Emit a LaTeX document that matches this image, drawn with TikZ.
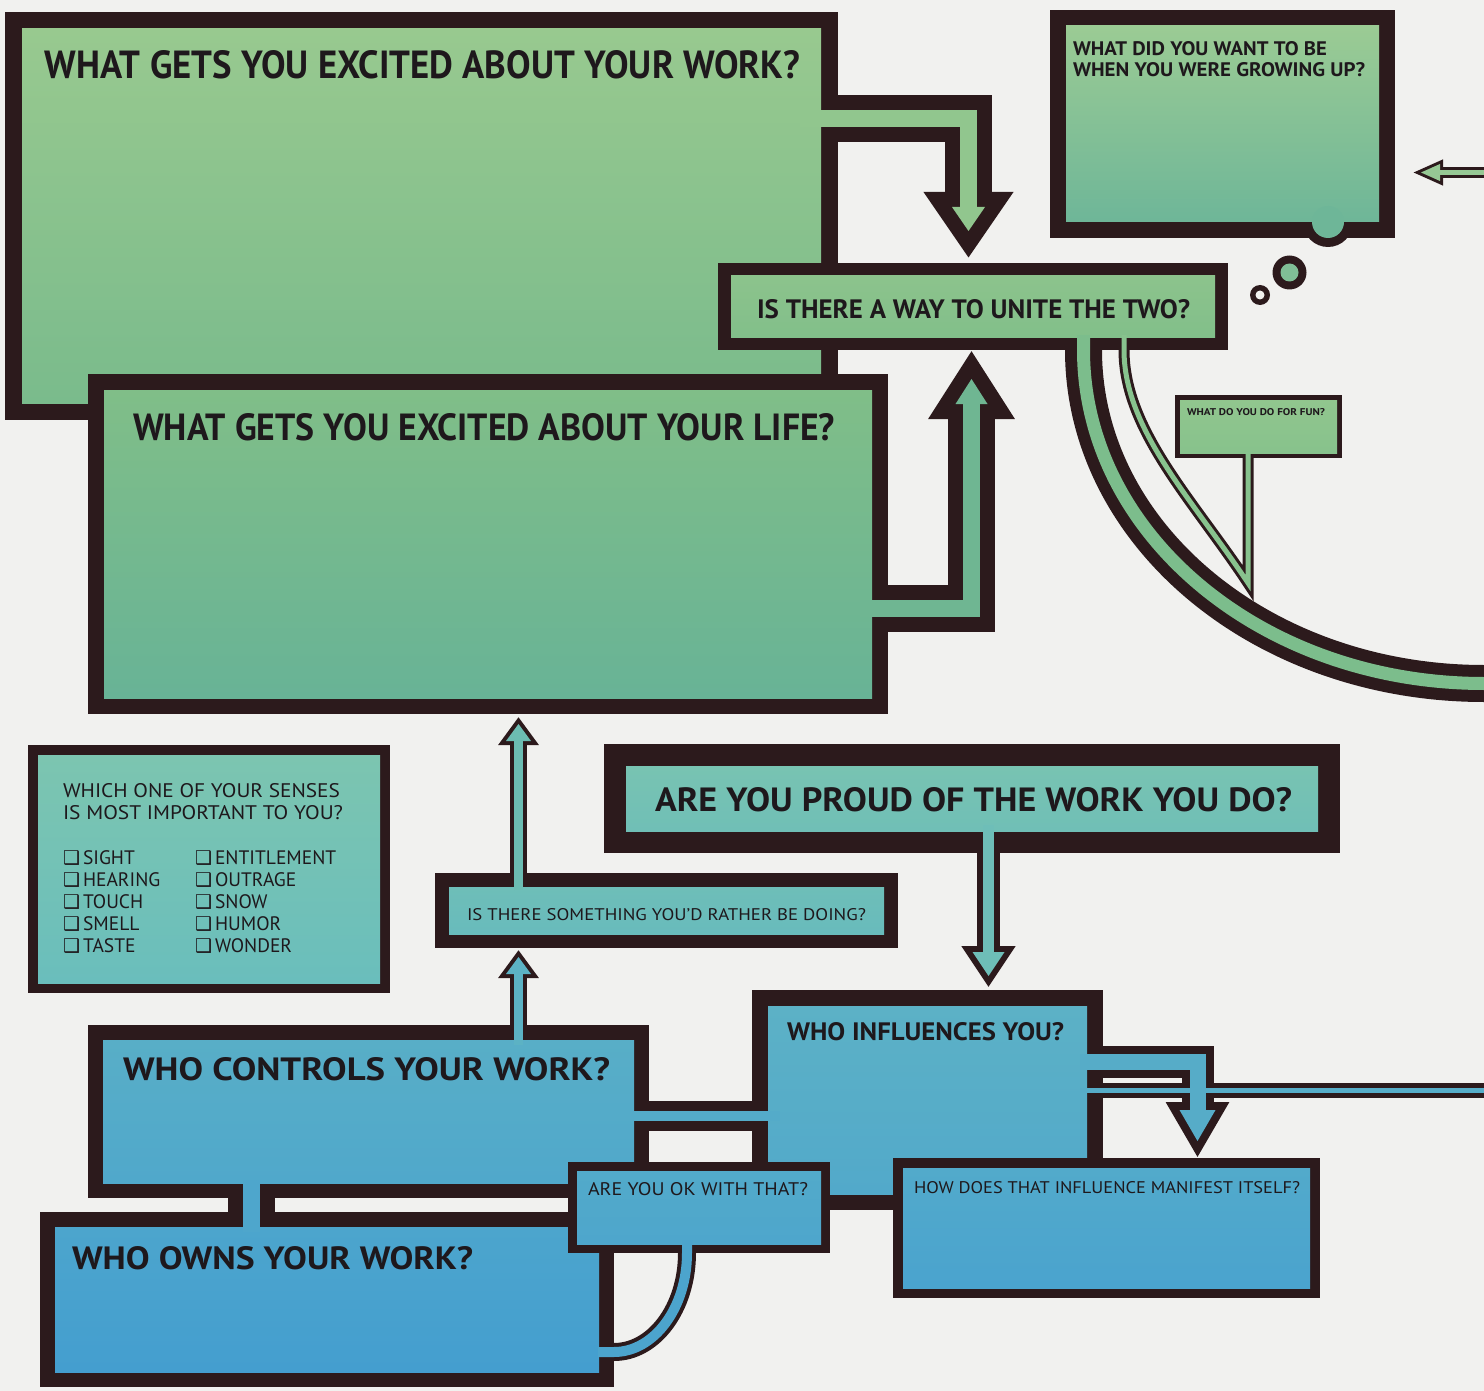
\documentclass[tikz,border=0pt]{standalone}
\usepackage{fontspec}
\setmainfont{PT Sans}
\newfontfamily\dejavu{DejaVu Sans}
\usepackage{graphicx}

\definecolor{dk}{RGB}{44,26,28}
\definecolor{bg}{RGB}{241,241,239}
\definecolor{tx}{RGB}{30,24,28}
\definecolor{cA1}{RGB}{152,201,143}\definecolor{cA2}{RGB}{122,187,140}
\definecolor{cD1}{RGB}{155,203,148}\definecolor{cD2}{RGB}{110,182,152}
\definecolor{cC1}{RGB}{140,195,140}\definecolor{cC2}{RGB}{130,191,138}
\definecolor{cB1}{RGB}{128,190,136}\definecolor{cB2}{RGB}{104,179,150}
\definecolor{cM1}{RGB}{145,198,142}\definecolor{cM2}{RGB}{135,194,140}
\definecolor{cE1}{RGB}{124,197,176}\definecolor{cE2}{RGB}{106,190,188}
\definecolor{cF1}{RGB}{120,195,178}\definecolor{cF2}{RGB}{112,191,182}
\definecolor{cH1}{RGB}{110,190,184}\definecolor{cH2}{RGB}{104,187,188}
\definecolor{cG1}{RGB}{92,177,198}\definecolor{cG2}{RGB}{82,169,202}
\definecolor{cI1}{RGB}{88,174,199}\definecolor{cI2}{RGB}{80,168,203}
\definecolor{cJ1}{RGB}{76,165,205}\definecolor{cJ2}{RGB}{68,158,207}
\definecolor{cK1}{RGB}{82,170,202}\definecolor{cK2}{RGB}{78,166,204}
\definecolor{cL1}{RGB}{82,170,203}\definecolor{cL2}{RGB}{74,163,206}
\colorlet{pAC}{cA1!75!cA2}
\colorlet{pBC}{cB1!30!cB2}
\definecolor{pST}{RGB}{124,189,140}
\definecolor{pSN}{RGB}{136,195,142}
\definecolor{pRA}{RGB}{150,200,148}
\definecolor{pHB}{RGB}{108,188,178}
\definecolor{pIH}{RGB}{92,178,196}
\definecolor{pFG}{RGB}{110,190,184}
\definecolor{pIG}{RGB}{84,171,201}
\definecolor{pIJ}{RGB}{78,166,204}
\definecolor{pKJ}{RGB}{76,164,205}
\definecolor{pGL}{RGB}{86,172,200}

\tikzset{
  txt/.style={anchor=base west, inner sep=0pt, outer sep=0pt, text=tx},
  pipe/.style={line cap=butt, line join=miter},
  head/.style={line join=miter},
}
\newcommand\bx[7]{%
  \fill[dk] (#1,#2) rectangle (#3,#4);
  \shade[top color=#6,bottom color=#7] ({#1+#5},{#2+#5}) rectangle ({#3-#5},{#4-#5});}
\newcommand\hd[6]{\node[txt] (#1) at (#2,#3) {\resizebox{#4pt}{#5pt}{#6}};}
\newcommand\ck[4]{\node[txt,font=\fontsize{19.5pt}{22pt}\selectfont] (#1) at (#2,#3) {{\dejavu\fontsize{19pt}{19pt}\selectfont ❑}\hspace{3pt}#4};}

\begin{document}
\begin{tikzpicture}[x=1pt,y=-1pt]
\useasboundingbox (0,0) rectangle (1484,1391);
\clip (0,0) rectangle (1484,1391);
\fill[bg] (0,0) rectangle (1484,1391);

% ---------- connector coordinates
\coordinate (ac0) at (800,118.5);
\coordinate (ac1) at (968.5,118.5);
\coordinate (ac2) at (968.5,207);
\coordinate (ach1) at (952,207);
\coordinate (ach2) at (985,207);
\coordinate (ach3) at (968.5,231);

\coordinate (bc0) at (860,608.5);
\coordinate (bc1) at (971.5,608.5);
\coordinate (bc2) at (971.5,404);
\coordinate (bch1) at (955.5,404);
\coordinate (bch2) at (987.5,404);
\coordinate (bch3) at (971.5,379);

\coordinate (st0) at (1083.5,335);
\coordinate (st1) at (1083.5,350);
\coordinate (st1c) at (1083.5,534);
\coordinate (st2c) at (1262,683.5);
\coordinate (st2) at (1484,683.5);
\coordinate (st3) at (1500,683.5);

\coordinate (sn0) at (1124,335);
\coordinate (sn1) at (1124,350);
\coordinate (sn1c) at (1124,430);
\coordinate (sn2c) at (1193,500);
\coordinate (sn2) at (1248,583);
\coordinate (sn3) at (1248,452);

\coordinate (ra0) at (1500,172.5);
\coordinate (ra1) at (1440,172.5);
\coordinate (rah1) at (1440,164);
\coordinate (rah2) at (1440,181);
\coordinate (rah3) at (1421,172.5);

\coordinate (hb0) at (518.5,890);
\coordinate (hb1) at (518.5,741);
\coordinate (hbh1) at (506,741);
\coordinate (hbh2) at (531,741);
\coordinate (hbh3) at (518.5,724);

\coordinate (ih0) at (518.5,1045);
\coordinate (ih1) at (518.5,974);
\coordinate (ihh1) at (506,974);
\coordinate (ihh2) at (531,974);
\coordinate (ihh3) at (518.5,957);

\coordinate (fg0) at (988.5,825);
\coordinate (fg1) at (988.5,952);
\coordinate (fgh1) at (972.5,952);
\coordinate (fgh2) at (1004.5,952);
\coordinate (fgh3) at (988.5,976);

\coordinate (ig0) at (625,1116);
\coordinate (ig1) at (780,1116);

\coordinate (ij0) at (251.5,1180);
\coordinate (ij1) at (251.5,1232);

\coordinate (kj0) at (687,1240);
\coordinate (kj1) at (687,1253);
\coordinate (kj1c) at (687,1308);
\coordinate (kj2c) at (654,1352);
\coordinate (kj2) at (614,1352);
\coordinate (kj3) at (598,1352);

\coordinate (gl0) at (1080,1061.5);
\coordinate (gl1) at (1197.5,1061.5);
\coordinate (gl2) at (1197.5,1110);
\coordinate (glh1) at (1179.5,1110);
\coordinate (glh2) at (1215.5,1110);
\coordinate (glh3) at (1197.5,1141);

\coordinate (lg0) at (1080,1090);
\coordinate (lg1) at (1500,1090);

% ---------- dark outlines of connectors
\draw[pipe,dk,line width=47pt] (ac0) -- (ac1) -- (ac2);
\filldraw[head,dk,line width=30pt] (ach1) -- (ach2) -- (ach3) -- cycle;
\draw[pipe,dk,line width=47pt] (bc0) -- (bc1) -- (bc2);
\filldraw[head,dk,line width=30pt] (bch1) -- (bch2) -- (bch3) -- cycle;
\draw[pipe,dk,line width=37pt] (st0) -- (st1) .. controls (st1c) and (st2c) .. (st2) -- (st3);
\draw[pipe,dk,line width=11pt] (sn0) -- (sn1) .. controls (sn1c) and (sn2c) .. (sn2) -- (sn3);
\draw[pipe,dk,line width=11pt] (ra0) -- (ra1);
\filldraw[head,dk,line width=6pt] (rah1) -- (rah2) -- (rah3) -- cycle;
\fill[dk] (1328,222) circle[radius=25pt];
\fill[dk] (1289.5,272.5) circle[radius=17pt];
\fill[dk] (1260,295) circle[radius=10pt];
\draw[pipe,dk,line width=17pt] (hb0) -- (hb1);
\filldraw[head,dk,line width=8pt] (hbh1) -- (hbh2) -- (hbh3) -- cycle;
\draw[pipe,dk,line width=17pt] (ih0) -- (ih1);
\filldraw[head,dk,line width=8pt] (ihh1) -- (ihh2) -- (ihh3) -- cycle;
\draw[pipe,dk,line width=23pt] (fg0) -- (fg1);
\filldraw[head,dk,line width=12pt] (fgh1) -- (fgh2) -- (fgh3) -- cycle;
\draw[pipe,dk,line width=30pt] (ig0) -- (ig1);
\draw[pipe,dk,line width=47pt] (ij0) -- (ij1);
\draw[pipe,dk,line width=18pt] (kj0) -- (kj1) .. controls (kj1c) and (kj2c) .. (kj2) -- (kj3);
\draw[pipe,dk,line width=32pt] (gl0) -- (gl1) -- (gl2);
\filldraw[head,dk,line width=16pt] (glh1) -- (glh2) -- (glh3) -- cycle;
\draw[pipe,dk,line width=15pt] (lg0) -- (lg1);

% ---------- boxes
\bx{5}{12}{838}{420}{17}{cA1}{cA2}
\bx{1050}{10}{1395}{238}{16}{cD1}{cD2}
\bx{718}{263}{1228}{350}{13}{cC1}{cC2}
\bx{88}{374}{888}{714}{16}{cB1}{cB2}
\bx{1175}{395}{1342}{458}{5}{cM1}{cM2}
\bx{28}{745}{390}{993}{10}{cE1}{cE2}
\bx{604}{744}{1340}{853}{22}{cF1}{cF2}
\bx{435}{873}{898}{948}{14}{cH1}{cH2}
\bx{752}{990}{1103}{1210}{16}{cG1}{cG2}
\bx{88}{1025}{649}{1198}{15}{cI1}{cI2}
\bx{40}{1212}{614}{1387}{15}{cJ1}{cJ2}
\bx{568}{1162}{830}{1253}{9}{cK1}{cK2}
\bx{893}{1158}{1320}{1298}{10}{cL1}{cL2}

% ---------- connector cores
\draw[pipe,pAC,line width=17pt] (ac0) -- (ac1) -- (ac2);
\fill[pAC] (ach1) -- (ach2) -- (ach3) -- cycle;
\draw[pipe,pBC,line width=17pt] (bc0) -- (bc1) -- (bc2);
\fill[pBC] (bch1) -- (bch2) -- (bch3) -- cycle;
\draw[pipe,pST,line width=13pt] (st0) -- (st1) .. controls (st1c) and (st2c) .. (st2) -- (st3);
\draw[pipe,pSN,line width=5pt] (sn0) -- (sn1) .. controls (sn1c) and (sn2c) .. (sn2) -- (sn3);
\draw[pipe,pRA,line width=5pt] (ra0) -- (ra1);
\fill[pRA] (rah1) -- (rah2) -- (rah3) -- cycle;
\fill[cD2] (1328,222) circle[radius=16pt];
\fill[cD2!60!cD1] (1289.5,272.5) circle[radius=9pt];
\fill[bg] (1260,295) circle[radius=4.5pt];
\draw[pipe,pHB,line width=9pt] (hb0) -- (hb1);
\fill[pHB] (hbh1) -- (hbh2) -- (hbh3) -- cycle;
\draw[pipe,pIH,line width=9pt] (ih0) -- (ih1);
\fill[pIH] (ihh1) -- (ihh2) -- (ihh3) -- cycle;
\draw[pipe,pFG,line width=11pt] (fg0) -- (fg1);
\fill[pFG] (fgh1) -- (fgh2) -- (fgh3) -- cycle;
\draw[pipe,pIG,line width=10pt] (ig0) -- (ig1);
\draw[pipe,pIJ,line width=17pt] (ij0) -- (ij1);
\draw[pipe,pKJ,line width=10pt] (kj0) -- (kj1) .. controls (kj1c) and (kj2c) .. (kj2) -- (kj3);
\draw[pipe,pGL,line width=16pt] (gl0) -- (gl1) -- (gl2);
\fill[pGL] (glh1) -- (glh2) -- (glh3) -- cycle;
\draw[pipe,pGL,line width=5pt] (lg0) -- (lg1);

% ---------- texts
\hd{tA}{45}{79}{755}{28}{\bfseries WHAT GETS YOU EXCITED ABOUT YOUR WORK?}
\hd{tB}{133}{440}{702}{27}{\bfseries WHAT GETS YOU EXCITED ABOUT YOUR LIFE?}
\hd{tC}{757}{318}{433}{19}{\bfseries IS THERE A WAY TO UNITE THE TWO?}
\hd{tD1}{1073}{56}{254}{14}{\bfseries WHAT DID YOU WANT TO BE}
\hd{tD2}{1073}{77}{292}{14}{\bfseries WHEN YOU WERE GROWING UP?}
\hd{tM}{1187}{415}{138}{7}{\bfseries WHAT DO YOU DO FOR FUN?}
\hd{tE1}{63}{797}{277}{14}{WHICH ONE OF YOUR SENSES}
\hd{tE2}{63}{819}{280}{14}{IS MOST IMPORTANT TO YOU?}
\ck{s1}{63}{864}{SIGHT}
\ck{s2}{63}{886}{HEARING}
\ck{s3}{63}{908}{TOUCH}
\ck{s4}{63}{930}{SMELL}
\ck{s5}{63}{952}{TASTE}
\ck{s6}{195}{864}{ENTITLEMENT}
\ck{s7}{195}{886}{OUTRAGE}
\ck{s8}{195}{908}{SNOW}
\ck{s9}{195}{930}{HUMOR}
\ck{s10}{195}{952}{WONDER}
\hd{tF}{655}{811}{637}{24}{\bfseries ARE YOU PROUD OF THE WORK YOU DO?}
\hd{tH}{467}{920}{399}{12}{IS THERE SOMETHING YOU'D RATHER BE DOING?}
\hd{tI}{123}{1080}{487}{23}{\bfseries WHO CONTROLS YOUR WORK?}
\hd{tG}{787}{1040}{277}{18}{\bfseries WHO INFLUENCES YOU?}
\hd{tK}{588}{1195}{220}{13}{ARE YOU OK WITH THAT?}
\hd{tL}{914}{1193}{386}{12}{HOW DOES THAT INFLUENCE MANIFEST ITSELF?}
\hd{tJ}{72}{1269}{401}{23}{\bfseries WHO OWNS YOUR WORK?}
\end{tikzpicture}
\end{document}
